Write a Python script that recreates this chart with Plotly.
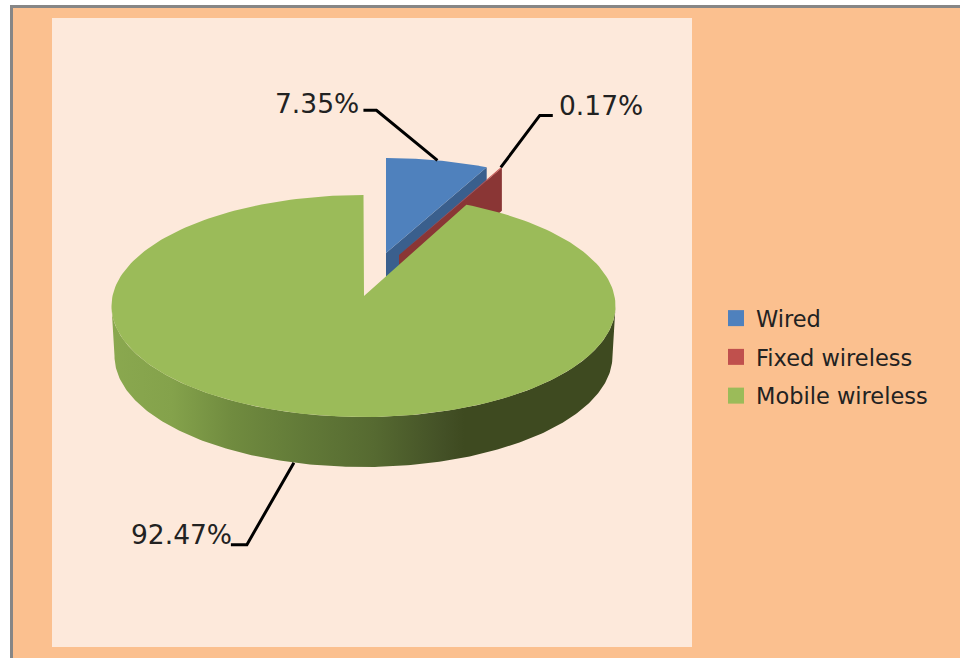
import numpy as np
import plotly.graph_objects as go

# ---- data ----
categories = ["Wired", "Fixed wireless", "Mobile wireless"]
shares = [7.35, 0.17, 92.47]
labels = ["7.35%", "0.17%", "92.47%"]

# ---- styles ----
top_colors = ["#4F81BD", "#C0504D", "#9BBB59"]
side_colors = ["#3A5F8D", "#8A3635"]
side_scale = [[0, "#8AA84F"], [0.12, "#84A24B"], [0.24, "#708B3F"], [0.38, "#627A38"],
              [0.52, "#566A31"], [0.66, "#435026"], [0.7, "#3E4A20"], [1, "#3E4A20"]]
FONT = "DejaVu Sans"

# ---- layout of the drawing (pixels) ----
RX, RY, DEPTH, BACK_DEPTH = 252, 111, 50, 43
BOTTOM_RX = 249
FOREST = 0.89
centers = [(386, 269), (399, 269), (363.5, 306)]   # ellipse centre of each slice
apexes = [(386, 253), (399, 255), (364, 296)]      # tip of each slice on the top face
leader_shift = [0, 0, 2.5]
leader_shape = [[(-61, -50), (-74, -50)], [(39, -52), (52, -52)], [(-47, 82), (-63, 82)]]
label_pos = [(361, 103, "right"), (557, 105, "left"), (234, 534, "right")]


def view(a):
    """True pie angle (deg, clockwise from 12 o'clock) to the drawn angle, foreshortened at the back."""
    total = sum(shares) / 100 * 360
    knee = (shares[0] + shares[1]) / 100 * 360
    if a <= knee:
        return a * FOREST
    return knee * FOREST + (a - knee) * (total - knee * FOREST) / (total - knee)


def rim(i, deg, drop=0, rx=RX):
    t = np.radians(deg)
    cx, cy = centers[i]
    return cx + rx * np.sin(t), cy - RY * np.cos(t) + drop


def arc(i, a0, a1, drop=0, rx=RX):
    t = np.linspace(a0, a1, 240)
    return rim(i, t, drop, rx)


cum = np.cumsum([0] + shares) / sum(shares) * 360
starts, ends = cum[:-1], cum[1:]

fig = go.Figure()


def poly(xs, ys, color, name):
    fig.add_trace(go.Scatter(x=list(xs), y=list(ys), mode="lines", fill="toself", fillcolor=color,
                             line=dict(width=0, color=color), name=name, showlegend=False,
                             hoverinfo="skip"))


# back slices: side wall on the leading cut edge, then top face
for i in (0, 1):
    a0, a1 = view(starts[i]), view(ends[i])
    ax, ay = apexes[i]
    rx1, ry1 = rim(i, a1)
    poly([ax, rx1, rx1, ax, ax], [ay, ry1, ry1 + BACK_DEPTH, ay + BACK_DEPTH, ay], side_colors[i], categories[i])
    xa, ya = arc(i, a0, a1)
    poly(np.r_[ax, xa, ax], np.r_[ay, ya, ay], top_colors[i], categories[i])

# big slice: outer wall with a horizontal gradient, then top face
xs1, ys1 = arc(2, 270, 90)
xs2, ys2 = arc(2, 90, 270, DEPTH, BOTTOM_RX)
fig.add_trace(go.Scatter(x=np.r_[xs1, xs2, xs1[0]], y=np.r_[ys1, ys2, ys1[0]], mode="lines", fill="toself",
                         line=dict(width=0, color="#5F7536"), showlegend=False, hoverinfo="skip",
                         fillgradient=dict(type="horizontal", colorscale=side_scale)))
xa, ya = arc(2, view(starts[2]), view(ends[2]))
ax, ay = apexes[2]
poly(np.r_[ax, xa, ax], np.r_[ay, ya, ay], top_colors[2], categories[2])

# leader lines and value labels
annotations = []
for i in range(3):
    mid = (starts[i] + ends[i]) / 2
    deg = (view(mid) if i < 2 else mid) + leader_shift[i]
    x0, y0 = rim(i, deg, DEPTH if i == 2 else 0)
    pts = [(x0, y0)] + [(x0 + dx, y0 + dy) for dx, dy in leader_shape[i]]
    fig.add_trace(go.Scatter(x=[p[0] for p in pts], y=[p[1] for p in pts], mode="lines",
                             line=dict(color="#000000", width=3), showlegend=False, hoverinfo="skip"))
    lx, ly, anchor = label_pos[i]
    annotations.append(dict(x=lx, y=ly, xref="x", yref="y", text=labels[i], showarrow=False, xanchor=anchor,
                            yanchor="middle", font=dict(family=FONT, size=26.5, color="#222222")))

# legend entries
for i, name in enumerate(categories):
    fig.add_trace(go.Scatter(x=[None], y=[None], mode="markers", name=name, legendgroup=name,
                             marker=dict(symbol="square", size=16, color=top_colors[i])))

shapes = [
    dict(type="rect", x0=10, x1=960, y0=5, y1=658, fillcolor="#868686", line_width=0, layer="below"),
    dict(type="rect", x0=13, x1=960, y0=8, y1=658, fillcolor="#FBC08F", line_width=0, layer="below"),
    dict(type="rect", x0=52, x1=692, y0=18, y1=647, fillcolor="#FDE9DB", line_width=0, layer="below"),
]

fig.update_layout(
    width=960, height=658, autosize=False, margin=dict(l=0, r=0, t=0, b=0),
    paper_bgcolor="#FFFFFF", plot_bgcolor="rgba(0,0,0,0)",
    xaxis=dict(range=[0, 960], visible=False, fixedrange=True),
    yaxis=dict(range=[658, 0], visible=False, fixedrange=True),
    shapes=shapes, annotations=annotations,
    legend=dict(x=716 / 960, y=1 - 297 / 658, xanchor="left", yanchor="top", bgcolor="rgba(0,0,0,0)",
                tracegroupgap=6.5, itemsizing="trace", traceorder="grouped",
                font=dict(family=FONT, size=22.5, color="#222222")),
)

fig.write_html("out.html", config=dict(displayModeBar=False), post_script="document.body.style.margin='0';")
